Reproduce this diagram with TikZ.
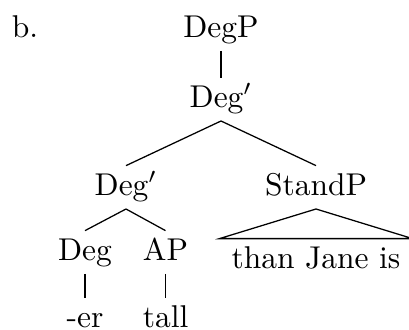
\documentclass[tikz,border=0pt]{standalone}
\begin{document}
\begin{tikzpicture}
  [x=0.3175pt,y=-0.3175pt,every node/.style={anchor=base,inner sep=2.3pt,text height=6.83pt,text depth=1.94pt}]
  \useasboundingbox (0,0) rectangle (409,329);
  \node (lbl) at (25,37) {b.};
  \node (n1) at (221,37) {DegP};
  \node (n2) at (221,107) {Deg$'$};
  \node (n3) at (126,195) {Deg$'$};
  \node (n4) at (316,195) {StandP};
  \node (n5) at (85,260) {Deg};
  \node (n6) at (165.5,260) {AP};
  \node (n7) at (85,327) {-er};
  \node (n8) at (165.5,327) {tall};
  \node[inner xsep=3.7pt] (n9) at (316,268) {than Jane is};

  \foreach \from/\to in {n1/n2,n2/n3,n2/n4,n3/n5,n3/n6,n5/n7,n6/n8}
    \draw (\from.south) -- (\to.north);
  \draw (n4.south) -- (n9.north west) -- (n9.north east) -- cycle;
\end{tikzpicture}
\end{document}
